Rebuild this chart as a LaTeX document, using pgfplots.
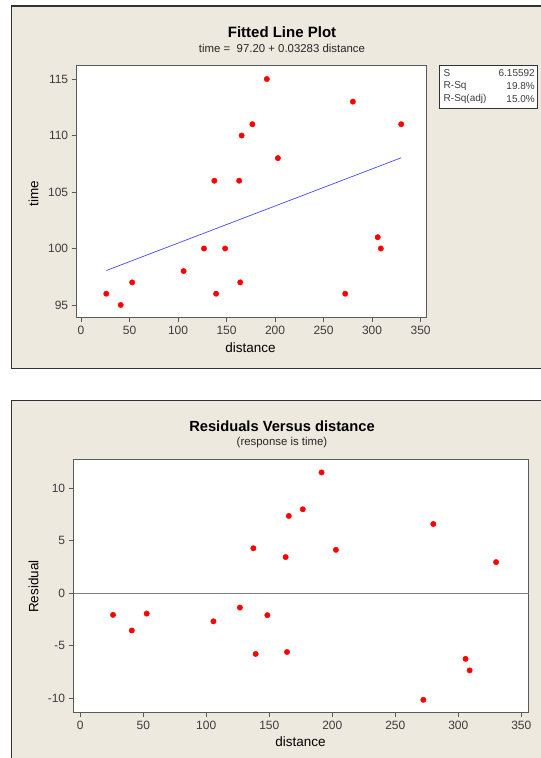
\documentclass[border=0pt]{standalone}
\usepackage{pgfplots}
\pgfplotsset{compat=1.18}
\usepackage{fontspec}
\setmainfont{Liberation Sans}
\definecolor{panelbg}{RGB}{238,233,223}
\definecolor{framec}{RGB}{50,50,50}
\definecolor{ptred}{RGB}{255,0,0}
\definecolor{fitblue}{RGB}{70,70,255}
\definecolor{ticktext}{RGB}{60,60,60}
\pgfplotsset{mystyle/.style={scale only axis, anchor=north west,
  axis background/.style={fill=white},
  axis line style={draw=gray!70!black, line width=0.9pt},
  tick align=outside, tick pos=left, major tick length=5pt,
  tick style={gray!70!black, line width=0.8pt},
  ticklabel style={font=\fontsize{12}{14}\selectfont, text=ticktext},
  /pgf/number format/assume math mode=true,
  xtick={0,50,...,350}}}
\begin{document}
\begin{tikzpicture}
\useasboundingbox (0pt,0pt) rectangle (541pt,-758pt);
\clip (0pt,0pt) rectangle (541pt,-758pt);
\fill[white] (0pt,0pt) rectangle (541pt,-758pt);
\draw[framec, line width=1.2pt, fill=panelbg] (11.3pt,-6pt) rectangle (600pt,-368.3pt);
\draw[framec, line width=1.2pt, fill=panelbg] (11.3pt,-400.3pt) rectangle (600pt,-800pt);

% ---------- top panel ----------
\node[font=\bfseries\fontsize{15}{18}\selectfont] at (282pt,-31.7pt) {Fitted Line Plot};
\node[font=\fontsize{11.4}{14}\selectfont, text=black!85] at (282pt,-48.3pt) {time =\ \ 97.20 + 0.03283 distance};
\node[font=\fontsize{13.5}{16}\selectfont] at (250.5pt,-347.3pt) {distance};
\node[rotate=90, font=\fontsize{13.5}{16}\selectfont] at (33.5pt,-193.3pt) {time};

\begin{axis}[mystyle, at={(76.7pt,-65.7pt)}, width=350pt, height=251.6pt,
  xmin=-4.5, xmax=356.3, ymin=93.91, ymax=116.18, ytick={95,100,...,115}]
\addplot[fitblue, line width=0.7pt] coordinates {(26.0,98.05) (330.0,108.03)};
\addplot[only marks, mark=*, mark size=2.7pt, mark options={draw=ptred, fill=ptred}] coordinates {
(26.0,96) (40.9,95) (52.7,97) (105.7,98) (126.7,100) (137.4,106) (139.2,96)
(148.5,100) (163.0,106) (164.1,97) (165.5,110) (176.6,111) (191.5,115)
(202.9,108) (272.3,96) (280.2,113) (305.8,101) (309.0,100) (330.0,111)};
\end{axis}

\draw[framec, fill=white, line width=0.8pt] (439.3pt,-65pt) rectangle (537.3pt,-108pt);
\begin{scope}[every node/.style={font=\fontsize{10}{12}\selectfont, text=ticktext, inner sep=0pt}]
\node[anchor=west] at (443.5pt,-73pt) {S};
\node[anchor=west] at (443.5pt,-86pt) {R-Sq};
\node[anchor=west] at (443.5pt,-99pt) {R-Sq(adj)};
\node[anchor=east] at (535pt,-73pt) {6.15592};
\node[anchor=east] at (535pt,-86pt) {19.8\%};
\node[anchor=east] at (535pt,-99pt) {15.0\%};
\end{scope}

% ---------- bottom panel ----------
\node[font=\bfseries\fontsize{14.7}{18}\selectfont] at (282pt,-426pt) {Residuals Versus distance};
\node[font=\fontsize{11.4}{14}\selectfont, text=black!85] at (282pt,-442.7pt) {(response is time)};
\node[font=\fontsize{13.5}{16}\selectfont] at (300.5pt,-741.7pt) {distance};
\node[rotate=90, font=\fontsize{13.5}{16}\selectfont] at (33.5pt,-586.7pt) {Residual};

\begin{axis}[mystyle, at={(73.7pt,-459.3pt)}, width=455pt, height=253pt,
  xmin=-5.2, xmax=355.9, ymin=-11.33, ymax=12.76, ytick={-10,-5,0,5,10}]
\addplot[gray, line width=0.8pt] coordinates {(-5.2,0) (355.9,0)};
\addplot[only marks, mark=*, mark size=2.7pt, mark options={draw=ptred, fill=ptred}] coordinates {
(26.0,-2.05) (40.9,-3.54) (52.7,-1.93) (105.7,-2.67) (126.7,-1.36) (137.4,4.29) (139.2,-5.77)
(148.5,-2.08) (163.0,3.45) (164.1,-5.59) (165.5,7.37) (176.6,8.00) (191.5,11.51)
(202.9,4.14) (272.3,-10.14) (280.2,6.60) (305.8,-6.24) (309.0,-7.34) (330.0,2.97)};
\end{axis}
\end{tikzpicture}
\end{document}
